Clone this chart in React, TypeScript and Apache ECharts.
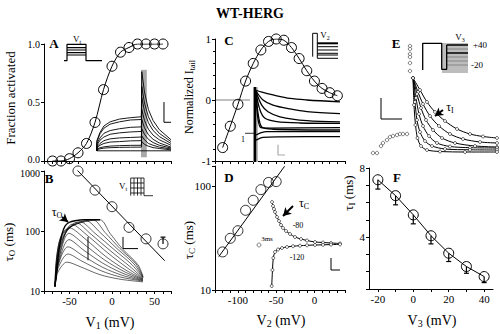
import React, { useEffect, useRef } from "react";
import * as echarts from "echarts";

const FONT = "'Liberation Serif','Times New Roman',serif";

// ---------------- main panel data ----------------
const aV = [-70, -60, -50, -40, -30, -20, -10, 0, 10, 20, 30, 40, 50, 60];
const aFrac = [0, 0, 0.02, 0.07, 0.15, 0.33, 0.61, 0.81, 0.93, 0.97, 1.0, 1.0, 1.0, 1.0];
const aYLabels = [0, 0.5, 1];

const bV = [-40, -20, 0, 20, 40, 60];
const bTau = [1000, 480, 254, 115, 74, 61];
const bFitV = [-42, 62];
const bFitTau = [1070, 32];
const bErrV = [60];
const bErrBase = [61];
const bErrHi = [79];
const vXLabelsAB = [-50, 0, 50];
const logLabels = [10, 100, 1000];

const cV = [-120, -110, -100, -90, -80, -70, -60, -50, -40, -30, -20, -10, 0, 10, 20, 30];
const cI = [-0.78, -0.43, -0.07, 0.31, 0.6, 0.82, 0.96, 1.0, 0.98, 0.86, 0.68, 0.48, 0.31, 0.19, 0.12, 0.07];
const cZeroV = [-128, -84];

const dV = [-120, -110, -100, -90, -80, -70, -60, -50];
const dTau = [23.3, 31.5, 37.3, 58.7, 73.3, 92.9, 109, 111];
const dFitV = [-125, -39];
const dFitTau = [21, 156];
const dXLabels = [-100, -50, 0];

const fV = [-20, -10, 0, 10, 20, 30, 40];
const fTau = [7.32, 6.4, 5.29, 4.08, 3.07, 2.3, 1.72];
const fErrLo = [6.78, 5.87, 4.77, 3.61, 2.59, 1.91, 1.37];
const fXTicks = [-20, -10, 0, 10, 20, 30, 40];
const fXLabels = [-20, 0, 20, 40];
const fYLabels = [4, 8];

// ---------------- inset data (local units of each inset) ----------------
const insetATraces = [
  [[5, 10], [5, 21], [9, 30], [14, 37], [22, 41.5], [34, 44.5], [48, 46], [62, 47], [62.5, 96], [66, 74], [71, 55], [77, 43], [85, 33], [100, 22]],
  [[5, 10], [5, 20], [9, 28.5], [14, 34.5], [22, 39], [34, 41.5], [48, 43.5], [62, 44], [62.5, 80], [66, 62], [71, 47], [77, 37], [85, 29], [100, 20]],
  [[5, 10], [5, 18], [9, 24], [14, 29], [22, 32], [34, 34], [48, 35.5], [62, 36], [62.5, 68], [66, 53], [71, 40.5], [77, 32], [85, 25.5], [100, 18]],
  [[5, 10], [5, 16], [9, 21.5], [14, 25], [22, 28], [34, 29.5], [48, 30.5], [62, 31], [62.5, 55], [66, 43], [71, 33.5], [77, 27], [85, 22], [100, 16]],
  [[5, 10], [5, 14.5], [9, 18], [14, 21], [22, 23], [34, 24], [48, 24.5], [62, 25], [62.5, 44], [66, 35], [71, 27.5], [77, 22.5], [85, 18.5], [100, 14]],
  [[5, 10], [5, 13.5], [9, 16], [14, 18], [22, 19.5], [34, 20], [48, 20.8], [62, 21], [62.5, 34], [66, 28], [71, 22.5], [77, 19], [85, 16], [100, 13]],
  [[5, 10], [5, 12], [9, 13.3], [14, 14.3], [22, 15.1], [34, 15.6], [48, 15.9], [62, 16], [62.5, 26], [66, 22], [71, 18], [77, 16], [85, 14], [100, 12]],
  [[5, 10], [5, 11.2], [9, 12.2], [14, 12.9], [22, 13.4], [34, 13.7], [48, 13.9], [62, 14], [62.5, 20], [66, 17], [71, 15], [77, 13.5], [85, 12.5], [100, 11]],
  [[5, 10], [100, 10]],
];
const insetABar = [[61.5, 3], [69, 98]];
const insetAScale = [[91, 63], [91, 41], [100, 41]];
const aProtoOuter = [[4, 1.3], [7, 1.3], [7, 17.7], [26, 17.7], [26, 1.3], [42, 1.3]];
const aProtoLevels = [14.3, 12, 9.3, 7];
const aProtoSpan = [7, 26];

const insetBEnvelope = [[5, 4], [7, 25], [9, 45], [12, 62], [15, 71], [19, 75], [25, 77], [35, 78], [50, 78]];
const insetBTraces = [
  [[5, 4], [8, 20], [17, 31], [30, 26], [50, 17], [70, 12], [93, 9]],
  [[5, 4], [8, 24], [18, 40], [32, 32], [52, 21], [72, 14], [93, 10]],
  [[5, 4], [8, 27], [18, 48], [33, 38], [53, 25], [73, 16], [93, 10.5]],
  [[5, 4], [9, 32], [19, 56], [34, 44], [54, 29], [74, 18], [93, 11]],
  [[5, 4], [9, 35], [19, 63], [35, 50], [55, 33], [75, 20], [93, 11.5]],
  [[5, 4], [10, 42], [20, 69], [36, 56], [56, 37], [76, 22], [93, 12]],
  [[5, 4], [10, 46], [22, 73], [38, 60], [58, 41], [78, 24], [93, 12.5]],
  [[5, 4], [11, 52], [26, 75], [41, 62], [61, 43], [80, 26], [93, 13]],
  [[5, 4], [11, 55], [30, 76], [45, 63], [64, 45], [82, 28], [93, 13.5]],
  [[5, 4], [12, 60], [36, 77], [50, 64], [67, 46], [84, 29], [93, 14]],
  [[5, 4], [12, 62], [43, 78], [55, 64], [70, 46], [86, 29], [93, 14.5]],
  [[5, 4], [13, 64], [50, 78], [60, 63], [73, 45], [88, 28], [93, 15]],
];
const insetBScale = [[73, 59], [73, 46], [88, 46]];
const insetBMark = [[38, 59], [38, 33]];
const insetBArrow = [[12, 81], [18, 75.5]];
const bProtoV = [12.7, 16, 19.5, 23, 26];
const bProtoH = [21, 16, 11, 6];
const bProtoLow = 3.3;
const bProtoBase = [[26, 3.3], [35, 3.3]];

const insetCTraces = [
  [[16, 92], [22, 89.5], [33, 86], [50, 81.5], [67, 79.5], [100, 77]],
  [[16, 91], [23, 79.5], [33, 73], [50, 68], [67, 64.5], [100, 62]],
  [[16, 90], [21.7, 73], [28, 64.5], [40, 58], [67, 53], [100, 51.5]],
  [[16, 89], [20, 66.7], [25, 56], [36.7, 51.7], [60, 50], [100, 49.5]],
  [[16, 88], [18, 62.8], [21.7, 45], [33, 42], [100, 41]],
  [[16, 86], [18, 55], [21, 44], [30, 43.5], [100, 44]],
  [[16, 34.6], [20, 37], [26.7, 39], [100, 39]],
  [[16, 28], [23, 31.7], [40, 32.3], [100, 32.5]],
];
const insetCSpike = [[15, 0], [15, 96]];
const insetCBar = [[13, 0], [18, 96]];
const insetCScale = [[38, 22], [38, 9], [45, 9]];
const insetCMarker = [[5, 36.8], [15, 36.8]];
const cProtoOuter = [[4.7, 5.3], [4.7, 28.7], [9.3, 28.7], [9.3, 3.7]];
const cProtoLevels = [18.7, 15.3, 12, 8.7, 7, 3.7];
const cProtoSpan = [9.3, 30];

const insetDUpper = [[17, 88], [18, 84], [19, 81], [20, 78], [22, 73], [24, 69], [26, 65], [28, 62], [31, 59], [35, 56], [40, 53], [46, 51], [52, 49.5], [60, 48], [68, 47.5], [76, 47], [85, 46.5]];
const insetDLower = [[16.7, 4], [17.5, 20], [18.3, 32], [20, 38], [23, 40.5], [27, 42], [32, 43], [38, 43.8], [45, 44.3], [52, 44.7], [60, 45], [68, 45.2], [76, 45.4], [85, 45.6]];
const insetDDot = [[4, 45]];
const insetDScale = [[76, 32], [76, 20], [85, 20]];
const insetDArrow = [[38, 84], [28, 74]];

const insetETraces = [
  [[48, 82], [55, 70], [62, 58], [70, 48], [80, 39], [92, 31], [105, 26], [118, 23.5], [132, 22]],
  [[48, 82], [53, 68], [58, 56], [65, 44], [74, 34], [85, 26], [98, 21], [115, 18], [132, 17]],
  [[48, 82], [52, 66], [56, 52], [61, 40], [68, 30], [77, 22], [90, 17], [110, 14], [132, 13]],
  [[48, 82], [51, 62], [54, 46], [58, 34], [64, 24], [72, 17], [85, 13.5], [105, 12.3], [132, 12]],
  [[48, 82], [50, 58], [52, 40], [55, 28], [60, 19], [67, 14], [80, 11], [105, 10.2], [132, 10]],
  [[48, 82], [49, 55], [50.5, 35], [52.5, 22], [56, 14], [62, 10], [75, 8.5], [100, 8], [132, 8]],
];
const insetEColumn = [[45, 114], [45, 111], [45, 106], [45, 103], [45, 97], [45, 89]];
const insetELeft = [[8, 7], [12, 7], [16, 14], [18, 17], [22, 20], [25, 23], [28, 24], [32, 25], [35, 26], [38, 26], [42, 26]];
const insetEScale = [[16, 62], [16, 41], [37, 41]];
const insetEArrow = [[78, 50], [70, 44]];
const eProtoBox = [[77, 117], [103, 87]];
const eProtoOuter = [[57.7, 90], [57.7, 116.7], [76.7, 116.7], [76.7, 90.7], [81.7, 90.7], [81.7, 115]];
const eProtoLevels = [115, 111, 107, 103, 99, 95];
const eProtoSpan = [81.7, 103];

// ---------------- layout ----------------
const grids = [
  { left: 44, top: 44, width: 127.5, height: 117 }, // 0 A
  { left: 44, top: 171, width: 127.5, height: 120 }, // 1 B
  { left: 215, top: 39, width: 130, height: 122 }, // 2 C
  { left: 215, top: 166, width: 130, height: 124 }, // 3 D
  { left: 369, top: 168, width: 124, height: 121 }, // 4 F
  { left: 93, top: 68, width: 78, height: 92 }, // 5 A traces
  { left: 60, top: 36, width: 44, height: 26 }, // 6 A protocol
  { left: 50, top: 200, width: 100, height: 90 }, // 7 B traces
  { left: 118, top: 175, width: 38, height: 24 }, // 8 B protocol
  { left: 240, top: 84, width: 100, height: 78 }, // 9 C traces
  { left: 308, top: 28, width: 34, height: 34 }, // 10 C protocol
  { left: 255, top: 195, width: 90, height: 95 }, // 11 D traces
  { left: 365, top: 40, width: 135, height: 120 }, // 12 E
];
const insetRanges: Record<number, [number, number]> = {
  5: [100, 100], 6: [44, 26], 7: [100, 100], 8: [38, 24], 9: [100, 100],
  10: [34, 34], 11: [90, 95], 12: [135, 120],
};

const isPow10 = (v: number) => Math.abs(Math.log10(v) - Math.round(Math.log10(v))) < 1e-6;

const axisBase = {
  axisLine: { show: true, onZero: false, lineStyle: { color: "#000", width: 1 } },
  axisTick: { show: true, length: 3, lineStyle: { color: "#000", width: 1 } },
  axisLabel: { color: "#000", fontFamily: FONT, fontSize: 11, margin: 4 },
  splitLine: { show: false },
};

function sub(size: number) {
  return {
    m: { fontSize: size, fontFamily: FONT, fill: "#000" },
    s: { fontSize: Math.round(size * 0.68), fontFamily: FONT, fill: "#000", padding: [Math.round(size * 0.5), 0, 0, 0] },
  };
}

function txt(x: number, y: number, text: string, size: number, opts: any = {}) {
  return {
    type: "text",
    x,
    y,
    rotation: opts.rot || 0,
    z: 100,
    silent: true,
    style: {
      text,
      fontFamily: FONT,
      fontSize: size,
      fontWeight: opts.bold ? "bold" : "normal",
      fill: "#000",
      align: "center",
      verticalAlign: "middle",
      rich: opts.rich ? sub(size) : undefined,
    },
  };
}

function ln(g: number, data: any[], extra: any = {}) {
  const { lineStyle, ...rest } = extra;
  return {
    type: "line",
    xAxisIndex: g,
    yAxisIndex: g,
    data,
    showSymbol: false,
    symbol: "none",
    silent: true,
    z: 3,
    lineStyle: { color: "#000", width: 0.8, ...(lineStyle || {}) },
    ...rest,
  };
}

function arrowLine(g: number, pts: number[][]) {
  return {
    type: "line",
    xAxisIndex: g,
    yAxisIndex: g,
    data: [],
    silent: true,
    z: 5,
    markLine: {
      silent: true,
      symbol: ["none", "arrow"],
      symbolSize: [7, 8],
      label: { show: false },
      lineStyle: { color: "#000", width: 2, type: "solid" },
      data: [[{ coord: pts[0] }, { coord: pts[1] }]],
    },
  };
}

function boxSeries(g: number, box: number[][], color: string) {
  return {
    type: "line",
    xAxisIndex: g,
    yAxisIndex: g,
    data: [],
    silent: true,
    z: 1,
    markArea: {
      silent: true,
      itemStyle: { color },
      data: [[{ coord: box[0] }, { coord: box[1] }]],
    },
  };
}

function errBars(g: number, xs: number[], from: number[], to: number[]) {
  return {
    type: "custom",
    xAxisIndex: g,
    yAxisIndex: g,
    silent: true,
    z: 4,
    data: xs.map((x, i) => [x, from[i], to[i]]),
    renderItem: (_p: any, api: any) => {
      const p0 = api.coord([api.value(0), api.value(1)]);
      const p1 = api.coord([api.value(0), api.value(2)]);
      return {
        type: "group",
        children: [
          { type: "line", shape: { x1: p0[0], y1: p0[1], x2: p1[0], y2: p1[1] }, style: { stroke: "#000", lineWidth: 1.2 } },
          { type: "line", shape: { x1: p1[0] - 2.5, y1: p1[1], x2: p1[0] + 2.5, y2: p1[1] }, style: { stroke: "#000", lineWidth: 1.2 } },
        ],
      };
    },
  };
}

const circleStyle = { color: "rgba(0,0,0,0)", borderColor: "#000", borderWidth: 1 };

function buildOption() {
  const xAxis: any[] = [
    { ...axisBase, type: "value", gridIndex: 0, min: -80, max: 70, interval: 10, axisLabel: { show: false } },
    { ...axisBase, type: "value", gridIndex: 1, min: -80, max: 70, interval: 10,
      axisLabel: { ...axisBase.axisLabel, formatter: (v: number) => (vXLabelsAB.includes(v) ? String(v) : "") } },
    { ...axisBase, type: "value", gridIndex: 2, min: -130, max: 40, interval: 10, axisLabel: { show: false } },
    { ...axisBase, type: "value", gridIndex: 3, min: -130, max: 40, interval: 10,
      axisLabel: { ...axisBase.axisLabel, formatter: (v: number) => (dXLabels.includes(v) ? String(v) : "") } },
    { ...axisBase, type: "value", gridIndex: 4, min: -25, max: 45,
      axisTick: { ...axisBase.axisTick, customValues: fXTicks },
      axisLabel: { ...axisBase.axisLabel, customValues: fXLabels } },
  ];
  const yAxis: any[] = [
    { ...axisBase, type: "value", gridIndex: 0, min: 0, max: 1, interval: 0.5,
      axisLabel: { ...axisBase.axisLabel, fontSize: 10,
        formatter: (v: number) => (aYLabels.includes(v) ? (v === 0 ? "{lo|0.0}" : v.toFixed(1)) : ""),
        rich: { lo: { fontFamily: FONT, fontSize: 10, fill: "#000", padding: [0, 0, 4, 0] } } } },
    { ...axisBase, type: "log", logBase: 10, gridIndex: 1, min: 10, max: 1000,
      axisLabel: { ...axisBase.axisLabel, fontSize: 10,
        formatter: (v: number) => {
          if (!isPow10(v) || !logLabels.includes(Math.round(v))) return "";
          const r = Math.round(v);
          return r === 1000 ? "{hi|1000}" : String(r);
        },
        rich: { hi: { fontFamily: FONT, fontSize: 10, fill: "#000", padding: [4, 0, 0, 0] } } } },
    { ...axisBase, type: "value", gridIndex: 2, min: -1, max: 1, interval: 1,
      minorTick: { show: true, splitNumber: 5, length: 2, lineStyle: { color: "#000" } } },
    { ...axisBase, type: "log", logBase: 10, gridIndex: 3, min: 10, max: 157,
      axisLabel: { ...axisBase.axisLabel, formatter: (v: number) => (isPow10(v) && logLabels.includes(Math.round(v)) ? String(Math.round(v)) : "") } },
    { ...axisBase, type: "value", gridIndex: 4, min: 1, max: 8, interval: 1,
      axisLabel: { ...axisBase.axisLabel, formatter: (v: number) => (fYLabels.includes(v) ? String(v) : "") } },
  ];
  for (let g = 5; g < grids.length; g++) {
    const r = insetRanges[g];
    xAxis.push({ type: "value", gridIndex: g, min: 0, max: r[0], show: false, splitLine: { show: false } });
    yAxis.push({ type: "value", gridIndex: g, min: 0, max: r[1], show: false, splitLine: { show: false } });
  }

  const series: any[] = [];
  // ---- A
  series.push({
    type: "line", xAxisIndex: 0, yAxisIndex: 0, smooth: 0.3, silent: true, z: 4,
    data: aV.map((v, i) => [v, aFrac[i]]),
    symbol: "circle", symbolSize: 10, showSymbol: true,
    itemStyle: circleStyle, lineStyle: { color: "#000", width: 1 },
  });
  // ---- B
  series.push(ln(1, bFitV.map((v, i) => [v, bFitTau[i]]), { lineStyle: { width: 1 } }));
  series.push({
    type: "scatter", xAxisIndex: 1, yAxisIndex: 1, silent: true, z: 4,
    data: bV.map((v, i) => [v, bTau[i]]), symbol: "circle", symbolSize: 10, itemStyle: circleStyle,
  });
  series.push(errBars(1, bErrV, bErrBase, bErrHi));
  // ---- C
  series.push({
    type: "line", xAxisIndex: 2, yAxisIndex: 2, smooth: 0.3, silent: true, z: 4,
    data: cV.map((v, i) => [v, cI[i]]),
    symbol: "circle", symbolSize: 10, showSymbol: true,
    itemStyle: circleStyle, lineStyle: { color: "#000", width: 1 },
  });
  series.push(ln(2, cZeroV.map((v) => [v, 0]), { lineStyle: { type: "dotted", width: 1 } }));
  // ---- D
  series.push(ln(3, dFitV.map((v, i) => [v, dFitTau[i]]), { lineStyle: { width: 1 } }));
  series.push({
    type: "scatter", xAxisIndex: 3, yAxisIndex: 3, silent: true, z: 4,
    data: dV.map((v, i) => [v, dTau[i]]), symbol: "circle", symbolSize: 10, itemStyle: circleStyle,
  });
  // ---- F
  series.push({
    type: "line", xAxisIndex: 4, yAxisIndex: 4, silent: true, z: 4,
    data: fV.map((v, i) => [v, fTau[i]]),
    symbol: "circle", symbolSize: 10, showSymbol: true,
    itemStyle: circleStyle, lineStyle: { color: "#000", width: 1 },
  });
  series.push(errBars(4, fV, fTau, fErrLo));

  // ---- A insets
  series.push(boxSeries(5, insetABar, "#a8a8a8"));
  insetATraces.forEach((t) => series.push(ln(5, t, { lineStyle: { width: 0.9 } })));
  series.push(ln(5, insetAScale, { lineStyle: { width: 1 } }));
  series.push(ln(6, aProtoOuter, { lineStyle: { width: 1.2 } }));
  aProtoLevels.forEach((L) => series.push(ln(6, aProtoSpan.map((x) => [x, L]), { lineStyle: { width: 1.2 } })));

  // ---- B insets
  insetBTraces.forEach((t) => series.push(ln(7, t, { smooth: 0.3, lineStyle: { width: 0.6, color: "#000" } })));
  series.push(ln(7, insetBEnvelope, { smooth: 0.3, lineStyle: { width: 1.4 } }));
  series.push(ln(7, insetBScale, { lineStyle: { width: 1 } }));
  series.push(ln(7, insetBMark, { lineStyle: { width: 1 } }));
  series.push(arrowLine(7, insetBArrow));
  bProtoV.forEach((x) => series.push(ln(8, [[x, bProtoLow], [x, bProtoH[0]]], { lineStyle: { width: 0.8 } })));
  bProtoH.forEach((y) => series.push(ln(8, [[bProtoV[0], y], [bProtoV[bProtoV.length - 1], y]], { lineStyle: { width: 0.8 } })));
  series.push(ln(8, bProtoBase, { lineStyle: { width: 0.8 } }));

  // ---- C insets
  series.push(boxSeries(9, insetCBar, "#bdbdbd"));
  insetCTraces.forEach((t) => series.push(ln(9, t, { smooth: 0.3, lineStyle: { width: 1.3 } })));
  series.push(ln(9, insetCSpike, { lineStyle: { width: 2.5 } }));
  series.push(ln(9, insetCScale, { lineStyle: { width: 1.2, color: "#aaa" } }));
  series.push(ln(9, insetCMarker, { lineStyle: { width: 0.8 } }));
  series.push(ln(10, cProtoOuter, { lineStyle: { width: 1 } }));
  cProtoLevels.forEach((L, i) =>
    series.push(ln(10, cProtoSpan.map((x) => [x, L]), { lineStyle: { width: i === 0 ? 2 : 1 } }))
  );

  // ---- D insets
  series.push(ln(11, insetDUpper, { smooth: 0.3, showSymbol: true, symbol: "circle", symbolSize: 3,
    itemStyle: { color: "#fff", borderColor: "#000", borderWidth: 0.6 }, lineStyle: { width: 1 } }));
  series.push(ln(11, insetDLower, { smooth: 0.3, showSymbol: true, symbol: "circle", symbolSize: 3,
    itemStyle: { color: "#fff", borderColor: "#000", borderWidth: 0.6 }, lineStyle: { width: 1 } }));
  series.push({ type: "scatter", xAxisIndex: 11, yAxisIndex: 11, silent: true, data: insetDDot, symbol: "circle", symbolSize: 4,
    itemStyle: { color: "#fff", borderColor: "#000", borderWidth: 0.6 } });
  series.push(ln(11, insetDScale, { lineStyle: { width: 1 } }));
  series.push(arrowLine(11, insetDArrow));

  // ---- E
  series.push(boxSeries(12, eProtoBox, "#bdbdbd"));
  eProtoLevels.forEach((L, i) =>
    series.push(ln(12, eProtoSpan.map((x) => [x, L]), { lineStyle: { width: i === 0 || i === 2 ? 1.3 : 0.8, color: i === 0 || i === 2 ? "#000" : "#777" } }))
  );
  series.push(ln(12, eProtoOuter, { lineStyle: { width: 1.3 } }));
  insetETraces.forEach((t) => series.push(ln(12, t, { smooth: 0.3, showSymbol: true, symbol: "circle", symbolSize: 3,
    itemStyle: { color: "#fff", borderColor: "#000", borderWidth: 0.6 }, lineStyle: { width: 1 } })));
  series.push({ type: "scatter", xAxisIndex: 12, yAxisIndex: 12, silent: true, data: insetEColumn.concat(insetELeft), symbol: "circle", symbolSize: 3.5,
    itemStyle: { color: "#fff", borderColor: "#000", borderWidth: 0.6 } });
  series.push(ln(12, insetEScale, { lineStyle: { width: 1 } }));
  series.push(arrowLine(12, insetEArrow));

  const graphic = [
    txt(250, 13, "WT-HERG", 14, { bold: true }),
    txt(54, 43, "A", 13, { bold: true }),
    txt(49, 178, "B", 13, { bold: true }),
    txt(229, 40, "C", 13, { bold: true }),
    txt(229, 177, "D", 13, { bold: true }),
    txt(396, 43, "E", 13, { bold: true }),
    txt(397, 177, "F", 13, { bold: true }),
    txt(10, 98, "Fraction activated", 13, { rot: Math.PI / 2 }),
    txt(8, 242, "{m|τ}{s|O}{m| (ms)}", 13, { rot: Math.PI / 2, rich: true }),
    txt(189, 97, "{m|Normalized I}{s|tail}", 12, { rot: Math.PI / 2, rich: true }),
    txt(188, 240, "{m|τ}{s|C}{m| (ms)}", 13, { rot: Math.PI / 2, rich: true }),
    txt(348, 193, "{m|τ}{s|I}{m| (ms)}", 13, { rot: Math.PI / 2, rich: true }),
    txt(110, 322, "{m|V}{s|1}{m| (mV)}", 14, { rich: true }),
    txt(281, 320, "{m|V}{s|2}{m| (mV)}", 14, { rich: true }),
    txt(432, 320, "{m|V}{s|3}{m| (mV)}", 14, { rich: true }),
    txt(77, 39, "{m|V}{s|t}", 9, { rich: true }),
    txt(123, 186, "{m|V}{s|t}", 9, { rich: true }),
    txt(57, 212, "{m|τ}{s|O}", 12, { rich: true }),
    txt(325, 35, "{m|V}{s|2}", 9, { rich: true }),
    txt(243, 139, "1", 8),
    txt(304, 203, "{m|τ}{s|C}", 12, { rich: true }),
    txt(298, 225, "-80", 8),
    txt(297, 257, "-120", 8),
    txt(267, 239, "3ms", 7),
    txt(460, 37, "{m|V}{s|3}", 9, { rich: true }),
    txt(480, 45, "+40", 9),
    txt(477, 65, "-20", 9),
    txt(450, 107, "{m|τ}{s|I}", 12, { rich: true }),
  ];

  return {
    animation: false,
    backgroundColor: "#fff",
    grid: grids.map((g) => ({ ...g, containLabel: false })),
    xAxis,
    yAxis,
    series,
    graphic,
  };
}

export default function App() {
  const ref = useRef<HTMLDivElement>(null);
  useEffect(() => {
    if (!ref.current) return;
    const chart = echarts.init(ref.current, null, { renderer: "svg" });
    chart.setOption(buildOption() as any);
    return () => chart.dispose();
  }, []);
  return (
    <div
      ref={ref}
      style={{ position: "fixed", left: 0, top: 0, width: 500, height: 334, background: "#fff" }}
    />
  );
}
